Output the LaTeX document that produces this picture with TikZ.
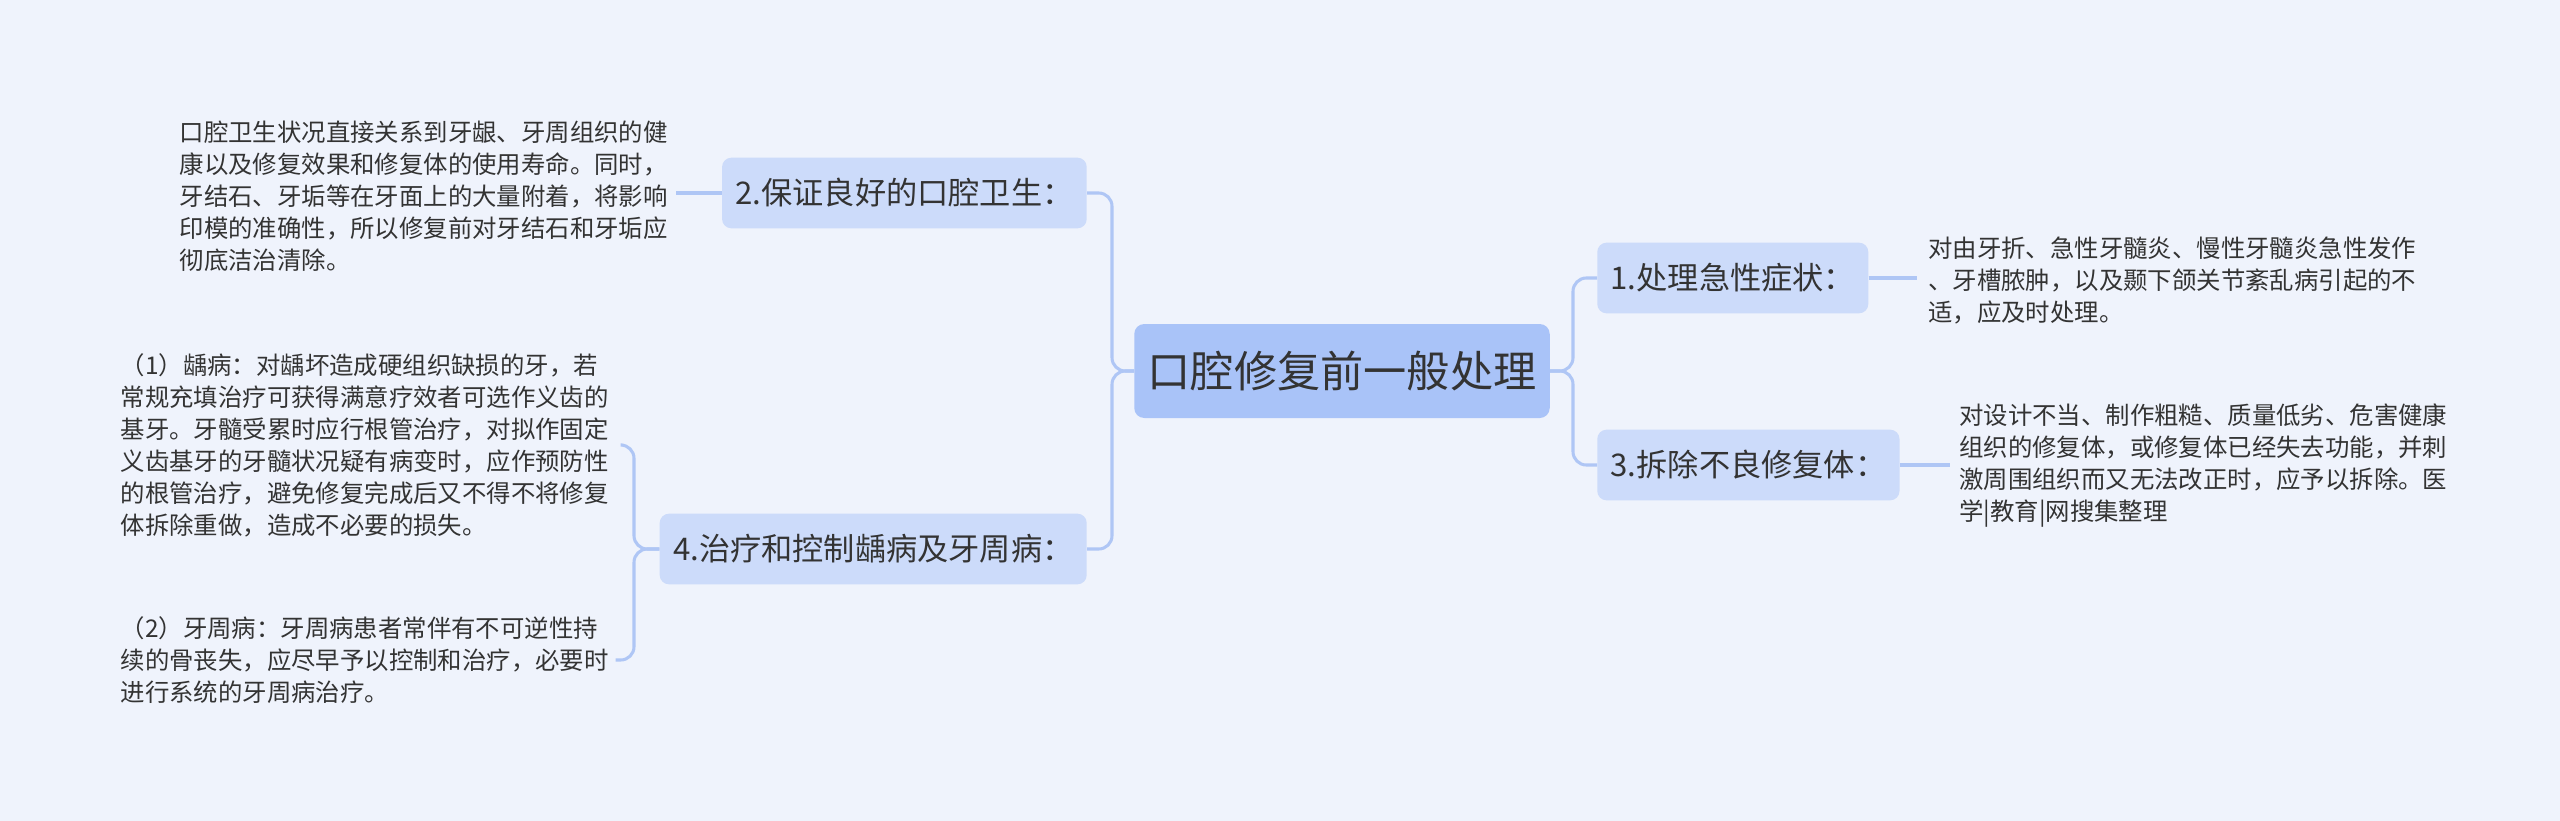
\documentclass[tikz,border=0pt]{standalone}
\usepackage{fontspec}
\setmainfont{Noto Sans CJK SC}
\definecolor{bgc}{HTML}{EFF3FC}
\definecolor{rootc}{HTML}{A9C3F8}
\definecolor{subc}{HTML}{CCDBFA}
\definecolor{linec}{HTML}{AFC6F5}
\definecolor{txtc}{HTML}{333333}
\tikzset{
  rootbox/.style={fill=rootc, rounded corners=7.5pt, minimum height=70.5pt, inner xsep=10pt, text=txtc, font=\fontsize{32.4}{38}\selectfont},
  subbox/.style={fill=subc, rounded corners=7pt, minimum height=53pt, inner xsep=10pt, text=txtc, font=\fontsize{23.4}{28}\selectfont},
  leaf/.style={align=left, inner sep=0pt, text=txtc, font=\fontsize{18.3}{24}\selectfont},
  conn/.style={draw=linec, line width=2.3pt, rounded corners=10pt},
}
\begin{document}
\begin{tikzpicture}[x=0.75pt,y=-0.75pt]
\useasboundingbox[fill=bgc] (0,0) rectangle (2560,821);
\node[rootbox] (c) at (1342,371) {口腔修复前一般处理};
\node[subbox, anchor=west] (n1) at (1597,278) {1.处理急性症状：};
\node[subbox, anchor=west] (n3) at (1597,465) {3.拆除不良修复体：};
\node[subbox, anchor=east] (n2) at (1087,193) {2.保证良好的口腔卫生：};
\node[subbox, anchor=east] (n4) at (1087,549) {4.治疗和控制龋病及牙周病：};
\node[leaf, anchor=west] (l1) at (1928,281) {对由牙折、急性牙髓炎、慢性牙髓炎急性发作\\、牙槽脓肿，以及颞下颌关节紊乱病引起的不\\适，应及时处理。};
\node[leaf, anchor=west] (l3) at (1959,466) {对设计不当、制作粗糙、质量低劣、危害健康\\组织的修复体，或修复体已经失去功能，并刺\\激周围组织而又无法改正时，应予以拆除。医\\学|教育|网搜集整理};
\node[leaf, anchor=east] (l2) at (668,196) {口腔卫生状况直接关系到牙龈、牙周组织的健\\康以及修复效果和修复体的使用寿命。同时，\\牙结石、牙垢等在牙面上的大量附着，将影响\\印模的准确性，所以修复前对牙结石和牙垢应\\彻底洁治清除。};
\node[leaf, anchor=east] (l4a) at (609,445) {（1）龋病：对龋坏造成硬组织缺损的牙，若\\常规充填治疗可获得满意疗效者可选作义齿的\\基牙。牙髓受累时应行根管治疗，对拟作固定\\义齿基牙的牙髓状况疑有病变时，应作预防性\\的根管治疗，避免修复完成后又不得不将修复\\体拆除重做，造成不必要的损失。};
\node[leaf, anchor=east] (l4b) at (609,660) {（2）牙周病：牙周病患者常伴有不可逆性持\\续的骨丧失，应尽早予以控制和治疗，必要时\\进行系统的牙周病治疗。};
\coordinate (cr) at (1573,371);
\coordinate (cl) at (1112,371);
\coordinate (bl) at (634,549);
\draw[conn] (c.east) -- (cr) |- (n1.west);
\draw[conn] (c.east) -- (cr) |- (n3.west);
\draw[conn] (c.west) -- (cl) |- (n2.east);
\draw[conn] (c.west) -- (cl) |- (n4.east);
\draw[conn] (n1.east) -- ([xshift=-8pt]l1.west |- n1.east);
\draw[conn] (n3.east) -- ([xshift=-7pt]l3.west |- n3.east);
\draw[conn] (n2.west) -- ([xshift=6pt]l2.east |- n2.west);
\draw[conn] (n4.west) -- (bl) |- ([xshift=10pt]l4a.east);
\draw[conn] (n4.west) -- (bl) |- ([xshift=5pt]l4b.east);
\end{tikzpicture}
\end{document}
